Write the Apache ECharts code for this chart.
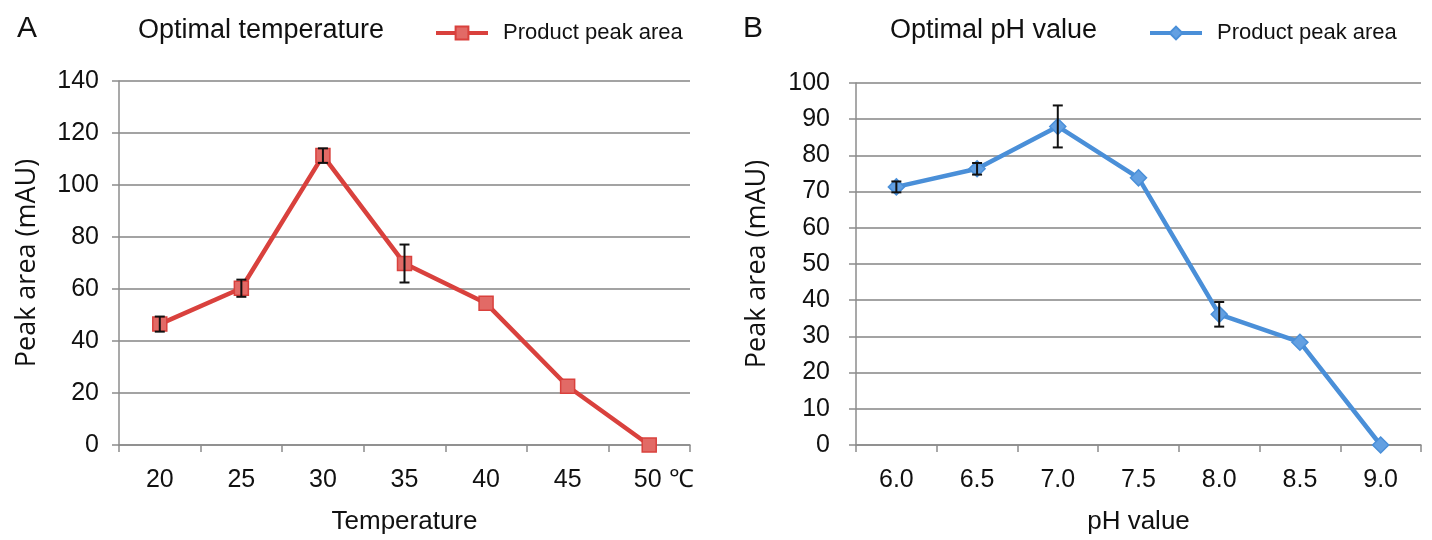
<!DOCTYPE html>
<html>
<head>
<meta charset="utf-8">
<script src="https://cdn.jsdelivr.net/npm/echarts@6/dist/echarts.min.js"></script>
<style>
  html, body { margin: 0; padding: 0; background: #fff; }
  #chart { width: 1432px; height: 540px; }
</style>
</head>
<body>
<div id="chart"></div>
<script>
// panel A: temperature
const tempCats = ['20', '25', '30', '35', '40', '45', '50'];
const tempValues = [46.5, 60.3, 111.3, 69.8, 54.5, 22.6, 0];
const tempErrors = [2.9, 3.3, 2.8, 7.3, 0, 0, 0];
const tempTicks = [0, 20, 40, 60, 80, 100, 120, 140];

// panel B: pH
const phCats = ['6.0', '6.5', '7.0', '7.5', '8.0', '8.5', '9.0'];
const phValues = [71.3, 76.3, 88.0, 73.8, 36.1, 28.4, 0];
const phErrors = [1.5, 1.6, 5.8, 0, 3.4, 0, 0];
const phTicks = [0, 10, 20, 30, 40, 50, 60, 70, 80, 90, 100];

const FONT = "'Liberation Sans', Arial, sans-serif";
const NAME_FONT = "'Open Sans', 'Liberation Sans', sans-serif";
const RED = '#d9413d';
const BLUE = '#4a8fd8';

function errorData(values, errors) {
  return values.map((v, i) => [i, v - errors[i], v + errors[i]]);
}

function errorBarItem(params, api) {
  if (api.value(2) - api.value(1) <= 0) return null;
  const lo = api.coord([api.value(0), api.value(1)]);
  const hi = api.coord([api.value(0), api.value(2)]);
  const w = 5;
  const style = { stroke: '#111', lineWidth: 2 };
  return {
    type: 'group',
    children: [
      { type: 'line', shape: { x1: hi[0], y1: hi[1], x2: lo[0], y2: lo[1] }, style: style },
      { type: 'line', shape: { x1: hi[0] - w, y1: hi[1], x2: hi[0] + w, y2: hi[1] }, style: style },
      { type: 'line', shape: { x1: lo[0] - w, y1: lo[1], x2: lo[0] + w, y2: lo[1] }, style: style }
    ]
  };
}

function xAxisOf(idx, cats, name, label) {
  return {
    type: 'category',
    gridIndex: idx,
    data: cats,
    name: name,
    nameLocation: 'middle',
    nameGap: 64,
    nameTextStyle: { fontFamily: FONT, fontSize: 26, color: '#111' },
    axisLine: { show: true, lineStyle: { color: '#8c8c8c', width: 1.5 } },
    axisTick: { show: true, length: 7, interval: 0, lineStyle: { color: '#8c8c8c', width: 1.5 } },
    axisLabel: Object.assign({ interval: 0, fontFamily: FONT, fontSize: 25, color: '#111', margin: 23 }, label || {})
  };
}

function yAxisOf(idx, ticks, nameGap, margin) {
  return {
    type: 'value',
    gridIndex: idx,
    min: ticks[0],
    max: ticks[ticks.length - 1],
    interval: ticks[1] - ticks[0],
    name: 'Peak area (mAU)',
    nameLocation: 'middle',
    nameRotate: 90,
    nameGap: nameGap,
    nameTextStyle: { fontFamily: NAME_FONT, fontSize: 27, color: '#111' },
    axisLine: { show: true, lineStyle: { color: '#8c8c8c', width: 1.5 } },
    axisTick: { show: true, length: 7, lineStyle: { color: '#8c8c8c', width: 1.5 } },
    axisLabel: { fontFamily: FONT, fontSize: 25, color: '#111', margin: margin },
    splitLine: { lineStyle: { color: '#a3a3a3', width: 2 } }
  };
}

function legendOf(name, left) {
  return {
    data: [name],
    left: left, top: 17,
    itemWidth: 52, itemHeight: 16,
    lineStyle: { width: 4 },
    textStyle: { fontFamily: FONT, fontSize: 22, color: '#111', padding: [0, 0, 0, 10] }
  };
}

const chart = echarts.init(document.getElementById('chart'));
chart.setOption({
  animation: false,
  backgroundColor: '#fff',
  title: [
    { text: 'A', left: 12, top: 9, textStyle: { fontFamily: FONT, fontSize: 30, fontWeight: 'normal', color: '#111' } },
    { text: 'Optimal temperature', left: 133, top: 12, textStyle: { fontFamily: FONT, fontSize: 27, fontWeight: 'normal', color: '#111' } },
    { text: 'B', left: 738, top: 9, textStyle: { fontFamily: FONT, fontSize: 30, fontWeight: 'normal', color: '#111' } },
    { text: 'Optimal pH value', left: 885, top: 12, textStyle: { fontFamily: FONT, fontSize: 27, fontWeight: 'normal', color: '#111' } }
  ],
  legend: [
    legendOf('Product peak area', 429),
    legendOf('Product peak area ', 1143)
  ],
  grid: [
    { left: 119, top: 81, width: 571, height: 364 },
    { left: 856, top: 83, width: 565, height: 362 }
  ],
  xAxis: [
    xAxisOf(0, tempCats, 'Temperature', {
      formatter: v => v === '50' ? '{u|50 \u2103}' : v,
      rich: { u: { fontFamily: FONT, fontSize: 25, color: '#111', padding: [0, 0, 0, 29] } }
    }),
    xAxisOf(1, phCats, 'pH value')
  ],
  yAxis: [
    yAxisOf(0, tempTicks, 78, 20),
    yAxisOf(1, phTicks, 85, 26)
  ],
  series: [
    {
      name: 'Product peak area',
      type: 'line',
      xAxisIndex: 0, yAxisIndex: 0,
      data: tempValues,
      symbol: 'rect', symbolSize: 14,
      lineStyle: { color: RED, width: 4.5 },
      itemStyle: { color: '#e26a66', borderColor: RED, borderWidth: 1.5 },
      z: 3
    },
    {
      name: 'Product peak area ',
      type: 'line',
      xAxisIndex: 1, yAxisIndex: 1,
      data: phValues,
      symbol: 'diamond', symbolSize: 16,
      lineStyle: { color: BLUE, width: 4.5 },
      itemStyle: { color: '#63a0e2', borderColor: BLUE, borderWidth: 1.5 },
      z: 3
    },
    {
      type: 'custom',
      xAxisIndex: 0, yAxisIndex: 0,
      data: errorData(tempValues, tempErrors),
      renderItem: errorBarItem,
      z: 4
    },
    {
      type: 'custom',
      xAxisIndex: 1, yAxisIndex: 1,
      data: errorData(phValues, phErrors),
      renderItem: errorBarItem,
      z: 4
    }
  ]
});
</script>
</body>
</html>
